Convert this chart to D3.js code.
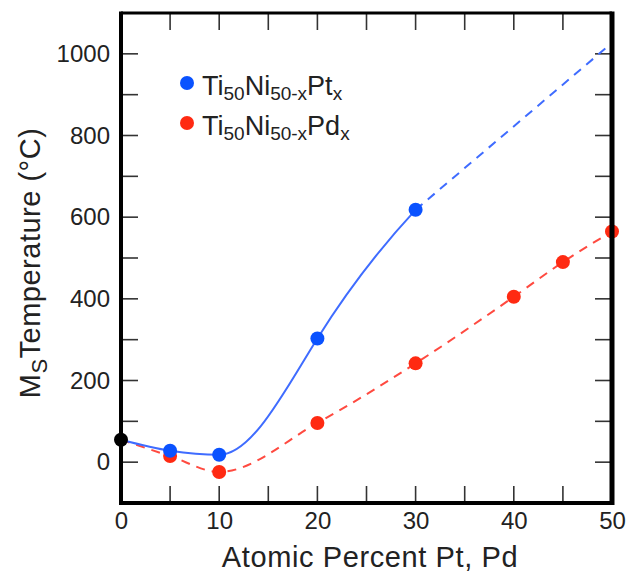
<!DOCTYPE html>
<html><head><meta charset="utf-8">
<script src="https://cdn.jsdelivr.net/npm/d3@7"></script>
<style>body{margin:0;background:#fff}svg{display:block}text{font-family:"Liberation Sans",Arial,sans-serif;fill:#222}</style>
</head><body><svg id="c" width="633" height="574"></svg>
<script>
const ptX = [0, 5, 10, 20, 30];
const ptY = [55, 28, 18, 303, 618];
const ptExtX = [30, 50];
const ptExtY = [618, 1027];
const pdX = [0, 5, 10, 20, 30, 40, 45, 50];
const pdY = [55, 15, -24, 96, 242, 405, 490, 565];
const originX = [0];
const originY = [55];
const xTicks = [0, 10, 20, 30, 40, 50];
const yTicks = [0, 200, 400, 600, 800, 1000];
const legendLabels = [["Ti","50","Ni","50-x","Pt","x"],["Ti","50","Ni","50-x","Pd","x"]];

const svg = d3.select("#c");
const L = 121, R = 612, T = 13, B = 503;
const x = d3.scaleLinear().domain([0, 50]).range([L, R]);
const y = d3.scaleLinear().domain([-100, 1100]).range([B, T]);
const blue = "#0a52ff", red = "#ff2a12", blueLine = "#3f6cff", redLine = "#ff4a40";
const FF = '"Liberation Sans",Arial,sans-serif';

const g = svg.append("g");
const tl = 17;
const xt = d3.range(0, 51, 5).filter(v=>v>0&&v<50), yt = d3.range(-100, 1101, 100).filter(v => v > -100 && v < 1100);
g.selectAll(".xb").data(xt).join("line").attr("class","xb").attr("x1", d=>x(d)).attr("x2", d=>x(d)).attr("y1", B).attr("y2", B-tl).attr("stroke", "#333").attr("stroke-width", 1.6);
g.selectAll(".xt").data(xt).join("line").attr("class","xt").attr("x1", d=>x(d)).attr("x2", d=>x(d)).attr("y1", T).attr("y2", T+tl).attr("stroke", "#333").attr("stroke-width", 1.6);
g.selectAll(".yl").data(yt).join("line").attr("class","yl").attr("x1", L).attr("x2", L+tl).attr("y1", d=>y(d)).attr("y2", d=>y(d)).attr("stroke", "#333").attr("stroke-width", 1.6);
g.selectAll(".yr").data(yt).join("line").attr("class","yr").attr("x1", R).attr("x2", R-tl).attr("y1", d=>y(d)).attr("y2", d=>y(d)).attr("stroke", "#333").attr("stroke-width", 1.6);

const xAxis = svg.append("g").attr("transform", `translate(0,${B})`).call(d3.axisBottom(x).tickValues(xTicks).tickFormat(d3.format("d")).tickSize(0).tickPadding(9));
xAxis.select(".domain").remove();
xAxis.selectAll("text").attr("font-size", 24).style("font-family", FF).attr("fill", "#222");
const yAxis = svg.append("g").attr("transform", `translate(${L},0)`).call(d3.axisLeft(y).tickValues(yTicks).tickFormat(d3.format("d")).tickSize(0).tickPadding(11));
yAxis.select(".domain").remove();
yAxis.selectAll("text").attr("font-size", 24).style("font-family", FF).attr("fill", "#222");

const ptData = ptX.map((v,i)=>[v, ptY[i]]);
const pdData = pdX.map((v,i)=>[v, pdY[i]]);
const extData = ptExtX.map((v,i)=>[v, ptExtY[i]]);
const line = d3.line().x(d=>x(d[0])).y(d=>y(d[1])).curve(d3.curveMonotoneX);

// cubic spline tangents: clamped start slope m0, natural end
function splineTangents(pts, m0) {
  const n = pts.length;
  const h = [], d = [];
  for (let i = 0; i < n - 1; i++) { h.push(pts[i+1][0]-pts[i][0]); d.push((pts[i+1][1]-pts[i][1])/h[i]); }
  const a = new Array(n).fill(0), b = new Array(n).fill(0), c = new Array(n).fill(0), r = new Array(n).fill(0);
  b[0] = 1; r[0] = m0;
  for (let i = 1; i < n - 1; i++) { a[i] = h[i]; b[i] = 2*(h[i-1]+h[i]); c[i] = h[i-1]; r[i] = 3*(h[i]*d[i-1] + h[i-1]*d[i]); }
  a[n-1] = 1; b[n-1] = 2; r[n-1] = 3*d[n-2];
  for (let i = 1; i < n; i++) { const w = a[i]/b[i-1]; b[i] -= w*c[i-1]; r[i] -= w*r[i-1]; }
  const m = new Array(n); m[n-1] = r[n-1]/b[n-1];
  for (let i = n - 2; i >= 0; i--) m[i] = (r[i] - c[i]*m[i+1])/b[i];
  return m;
}
function hermitePath(pts, m, upto) {
  const p = d3.path();
  p.moveTo(x(pts[0][0]), y(pts[0][1]));
  for (let i = 0; i < pts.length - 1 && pts[i][0] < upto; i++) {
    const [x0, y0] = pts[i], [x1, y1] = pts[i+1], hh = x1 - x0;
    p.bezierCurveTo(x(x0 + hh/3), y(y0 + m[i]*hh/3), x(x1 - hh/3), y(y1 - m[i+1]*hh/3), x(x1), y(y1));
  }
  return p.toString();
}

svg.append("clipPath").attr("id", "lowClip").append("rect")
  .attr("x", L - 10).attr("y", 0).attr("width", x(10) - L + 10).attr("height", 574);

svg.append("path").datum(pdData).attr("d", line).attr("fill","none").attr("stroke", redLine).attr("stroke-width", 2).attr("stroke-dasharray", "9,7");
// solid Pt curve: monotone through the low-x points, then a spline that continues into the extrapolation
svg.append("path").datum(ptData).attr("d", line).attr("clip-path", "url(#lowClip)").attr("fill","none").attr("stroke", blueLine).attr("stroke-width", 2);
const upper = ptData.filter(d => d[0] >= 10).concat(extData.slice(1));
svg.append("path").attr("d", hermitePath(upper, splineTangents(upper, 0), ptX[ptX.length-1])).attr("fill","none").attr("stroke", blueLine).attr("stroke-width", 2);
svg.append("path").datum(extData).attr("d", d3.line().x(d=>x(d[0])).y(d=>y(d[1]))).attr("fill","none").attr("stroke", blueLine).attr("stroke-width", 2).attr("stroke-dasharray", "9,7");

svg.selectAll(".pd").data(pdData.slice(1)).join("circle").attr("cx", d=>x(d[0])).attr("cy", d=>y(d[1])).attr("r", 7).attr("fill", red);
svg.selectAll(".pt").data(ptData.slice(1)).join("circle").attr("cx", d=>x(d[0])).attr("cy", d=>y(d[1])).attr("r", 7).attr("fill", blue);

svg.append("line").attr("x1", L).attr("x2", R).attr("y1", T).attr("y2", T).attr("stroke", "#000").attr("stroke-width", 3);
svg.append("line").attr("x1", L).attr("x2", R+2).attr("y1", B).attr("y2", B).attr("stroke", "#000").attr("stroke-width", 4);
svg.append("line").attr("x1", L).attr("x2", L).attr("y1", T-1.5).attr("y2", B+2).attr("stroke", "#000").attr("stroke-width", 4);
svg.append("line").attr("x1", R).attr("x2", R).attr("y1", T-1.5).attr("y2", B+2).attr("stroke", "#000").attr("stroke-width", 5);

svg.selectAll(".o").data(originX.map((v,i)=>[v, originY[i]])).join("circle").attr("cx", d=>x(d[0])).attr("cy", d=>y(d[1])).attr("r", 7).attr("fill", "#000");

const legColors = [blue, red];
legendLabels.forEach((parts, i) => {
  const cy = 83 + i*40;
  svg.append("circle").attr("cx", 187).attr("cy", cy).attr("r", 7).attr("fill", legColors[i]);
  const t = svg.append("text").attr("x", 202).attr("y", cy + 12).attr("font-size", 27);
  parts.forEach((p, j) => {
    const sub = j % 2 === 1;
    t.append("tspan").text(p).attr("font-size", sub ? 19 : 27).attr("dy", sub ? 5 : (j===0?0:-5));
  });
});

svg.append("text").attr("x", 370).attr("y", 567).attr("text-anchor", "middle").attr("font-size", 29).attr("letter-spacing", 0.6).text("Atomic Percent Pt, Pd");
const yt2 = svg.append("text").attr("transform", "translate(40,263) rotate(-90)").attr("text-anchor", "middle").attr("font-size", 29).attr("letter-spacing", 0.5);
yt2.append("tspan").text("M");
yt2.append("tspan").text("S").attr("font-size", 22).attr("dy", 7);
yt2.append("tspan").text("Temperature (°C)").attr("dy", -7);
</script></body></html>
